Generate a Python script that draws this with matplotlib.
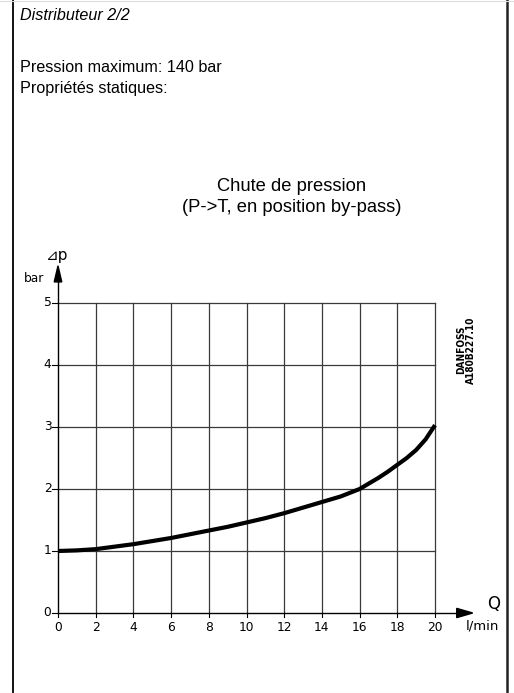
import matplotlib
matplotlib.use("Agg")
import matplotlib.pyplot as plt
from matplotlib.lines import Line2D
from matplotlib.patches import Polygon

# ---- data ----
flow_q = [0, 1, 2, 3, 4, 5, 6, 7, 8, 9, 10, 11, 12, 13, 14, 15, 15.5, 16,
          16.5, 17, 17.5, 18, 18.5, 19, 19.5, 20]
pressure_drop = [1.0, 1.01, 1.03, 1.07, 1.11, 1.16, 1.21, 1.27, 1.33, 1.39,
                 1.46, 1.53, 1.61, 1.70, 1.79, 1.88, 1.94, 2.0,
                 2.09, 2.18, 2.28, 2.39, 2.50, 2.63, 2.80, 3.03]
x_ticks = [0, 2, 4, 6, 8, 10, 12, 14, 16, 18, 20]
y_ticks = [0, 1, 2, 3, 4, 5]

W, H = 514, 693
fig = plt.figure(figsize=(W / 100, H / 100), dpi=100)
fig.patch.set_facecolor("white")

def px(x, y):
    return x / W, 1 - y / H

# frame lines
fig.add_artist(Line2D([13 / W, 13 / W], [0, 1], color="black", lw=1.3))
fig.add_artist(Line2D([506.5 / W, 506.5 / W], [0, 1], color="#222222", lw=1.8))
fig.add_artist(Line2D([0, 1], [1 - 0.5 / H, 1 - 0.5 / H], color="#dddddd", lw=0.8))
fig.add_artist(Line2D([0, 1], [0.5 / H, 0.5 / H], color="#dddddd", lw=0.8))

sans = ["Liberation Sans", "DejaVu Sans"]
fs_body = 11.6
fs_title = 13.2
fig.text(*px(20, 15), "Distributeur 2/2", fontsize=fs_body, style="italic",
         family=sans, va="center", ha="left")
fig.text(*px(20, 67), "Pression maximum: 140 bar", fontsize=fs_body,
         family=sans, va="center", ha="left")
fig.text(*px(20, 88), "Propriétés statiques:", fontsize=fs_body,
         family=sans, va="center", ha="left")
fig.text(*px(292, 187), "Chute de pression", fontsize=fs_title,
         family=sans, va="center", ha="center")
fig.text(*px(292, 208), "(P->T, en position by-pass)", fontsize=fs_title,
         family=sans, va="center", ha="center")

fig.text(*px(466, 350), "DANFOSS\nA180B227.10", fontsize=7.2, rotation=90,
         family=["DejaVu Sans"], weight="bold", stretch="condensed",
         va="center", ha="center", linespacing=1.0)

# data axes
x0, x1 = 58, 435
y0, y1 = 613, 303
ax = fig.add_axes([x0 / W, (H - y0) / H, (x1 - x0) / W, (y0 - y1) / H])
ax.set_xlim(0, 20)
ax.set_ylim(0, 5)
ax.axis("off")

# grid
for xv in x_ticks[1:]:
    ax.plot([xv, xv], [0, 5], color="#3a3a3a", lw=0.9, clip_on=False)
for yv in y_ticks[1:]:
    ax.plot([0, 20], [yv, yv], color="#3a3a3a", lw=0.9, clip_on=False)

# axes lines with arrows
ax.plot([0, 21.3], [0, 0], color="black", lw=1.0, clip_on=False)
ax.plot([0, 0], [0, 5.4], color="black", lw=1.0, clip_on=False)
ax.add_patch(Polygon([[21.15, 0.075], [22.0, 0.0], [21.15, -0.075]], closed=True,
                     color="black", clip_on=False))
ax.add_patch(Polygon([[-0.2, 5.34], [0.0, 5.6], [0.2, 5.34]], closed=True,
                     color="black", clip_on=False))

# ticks and labels
tick_font = ["DejaVu Sans"]
for xv in x_ticks:
    ax.plot([xv, xv], [0, -0.07], color="black", lw=0.8, clip_on=False)
    ax.text(xv, -0.13, str(xv), ha="center", va="top", fontsize=8.8,
            family=tick_font)
for yv in y_ticks:
    ax.plot([-0.32, 0], [yv, yv], color="black", lw=0.8, clip_on=False)
    ax.text(-0.35, yv, str(yv), ha="right", va="center", fontsize=8.8,
            family=tick_font)

ax.text(23.1, 0.0, "Q", ha="center", va="bottom", fontsize=12, family=tick_font)
ax.text(22.5, -0.1, "l/min", ha="center", va="top", fontsize=9.5, family=tick_font)
ax.text(-0.05, 5.77, "⊿p", ha="center", va="center", fontsize=11, family=tick_font)
ax.text(-1.25, 5.4, "bar", ha="center", va="center", fontsize=8.8, family=tick_font)

# curve
ax.plot(flow_q, pressure_drop, color="black", lw=3.0, clip_on=False,
        solid_capstyle="butt", solid_joinstyle="round")

fig.savefig("out.png", dpi=100, facecolor="white")
